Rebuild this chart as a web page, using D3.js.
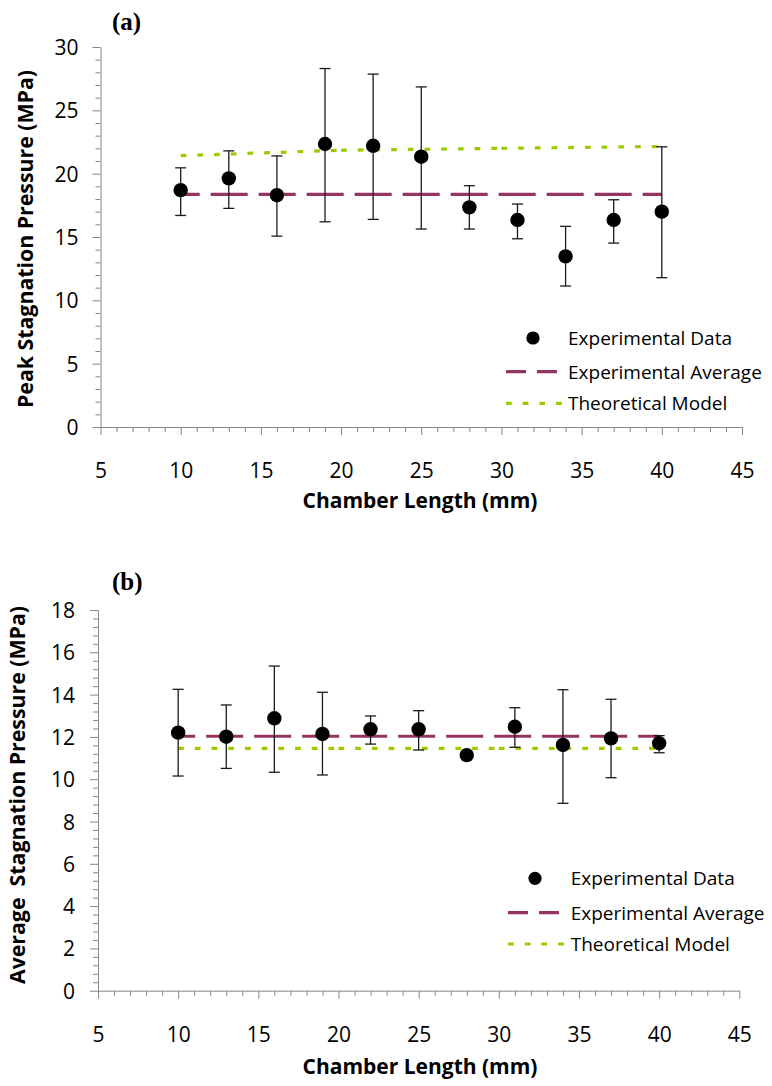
<!DOCTYPE html>
<html>
<head>
<meta charset="utf-8">
<script src="https://cdn.jsdelivr.net/npm/d3@7"></script>
<style>
  html, body { margin: 0; padding: 0; background: #fff; }
  svg { display: block; }
  text { font-family: "Open Sans", Lato, sans-serif; fill: #000; }
</style>
</head>
<body>
<svg id="chart" width="772" height="1086"></svg>
<script>
// Chamber lengths tested (mm)
const chamberLength = [10, 13, 16, 19, 22, 25, 28, 31, 34, 37, 40];

// Panel (a): peak stagnation pressure (MPa)
const peakMean  = [18.70, 19.63, 18.30, 22.34, 22.20, 21.34, 17.34, 16.34, 13.47, 16.34, 17.00];
const peakUpper = [20.46, 21.80, 21.40, 28.30, 27.86, 26.85, 19.05, 17.60, 15.84, 17.94, 22.12];
const peakLower = [16.70, 17.26, 15.07, 16.20, 16.39, 15.63, 15.63, 14.86, 11.13, 14.52, 11.79];
const peakAverage = 18.37;

// Panel (b): average stagnation pressure (MPa)
const avgMean  = [12.20, 12.01, 12.88, 12.14, 12.36, 12.36, 11.14, 12.48, 11.62, 11.93, 11.70];
const avgUpper = [14.25, 13.51, 15.35, 14.11, 12.99, 13.24, 11.24, 13.38, 14.23, 13.78, 12.06];
const avgLower = [10.15, 10.51, 10.33, 10.20, 11.66, 11.38, 11.04, 11.51,  8.86, 10.07, 11.25];
const avgAverage = 12.03;

// Theoretical model curves
const modelLength = [10, 20, 30, 40];
const peakModel = [21.42, 21.85, 22.00, 22.15];
const avgModel  = [11.46, 11.46, 11.46, 11.46];

// Tick labels
const lengthTicks = [5, 10, 15, 20, 25, 30, 35, 40, 45];
const peakTicks = [0, 5, 10, 15, 20, 25, 30];
const avgTicks = [0, 2, 4, 6, 8, 10, 12, 14, 16, 18];

const legendLabels = ["Experimental Data", "Experimental Average", "Theoretical Model"];

const AXIS = "#868686";
const AVG_COLOR = "#953462";
const MODEL_COLOR = "#99cc00";

const svg = d3.select("#chart");

function drawPanel(p) {
  const g = svg.append("g");
  const x = d3.scaleLinear().domain([5, 45]).range([p.left, p.right]);
  const y = d3.scaleLinear().domain([0, p.yMax]).range([p.bottom, p.top]);

  // minor ticks
  const xMinor = d3.range(5, 45.001, 1).filter(v => v % 5 !== 0);
  const yMinor = d3.range(0, p.yMax + 0.001, p.yMinorStep)
    .map(v => +v.toFixed(2)).filter(v => !p.yTicks.some(t => Math.abs(t - v) < 1e-6));

  g.append("g").attr("transform", `translate(0,${p.bottom})`)
    .call(d3.axisBottom(x).tickValues(xMinor).tickSize(5).tickFormat(""))
    .call(a => a.select(".domain").remove());
  g.append("g").attr("transform", `translate(${p.left},0)`)
    .call(d3.axisLeft(y).tickValues(yMinor).tickSize(5).tickFormat(""))
    .call(a => a.select(".domain").remove());

  const xAxis = g.append("g").attr("transform", `translate(0,${p.bottom})`)
    .call(d3.axisBottom(x).tickValues(lengthTicks).tickSize(8).tickSizeOuter(0));
  xAxis.selectAll("text").attr("y", p.xLabelOffset).attr("dy", "0.36em")
    .style("font-size", "21px").style("font-family", "'Open Sans'");

  const yAxis = g.append("g").attr("transform", `translate(${p.left},0)`)
    .call(d3.axisLeft(y).tickValues(p.yTicks).tickSize(8).tickSizeOuter(0).tickPadding(p.yPad));
  yAxis.selectAll("text").attr("dy", "0.36em")
    .style("font-size", "21px").style("font-family", "'Open Sans'");

  g.selectAll(".domain, .tick line").attr("stroke", AXIS).attr("stroke-width", 1);

  // axis titles
  g.append("text").attr("x", p.xTitleX).attr("y", p.xTitleY)
    .attr("text-anchor", "middle").style("font-weight", "bold").style("font-size", "21px")
    .text("Chamber Length (mm)");
  g.append("text")
    .attr("transform", `translate(${p.yTitleX},${p.yTitleY}) rotate(-90)`)
    .attr("text-anchor", "middle").style("font-weight", "bold").style("font-size", "21.3px")
    .style("white-space", "pre")
    .text(p.yTitle);

  // panel letter
  g.append("text").attr("x", 112).attr("y", p.letterY)
    .style("font-family", "'Liberation Serif', 'Times New Roman', serif")
    .style("font-weight", "bold").style("font-size", "25px")
    .text(p.letter);

  // theoretical model (pattern restarts on each segment)
  for (let i = 0; i < modelLength.length - 1; i++) {
    g.append("line")
      .attr("x1", x(modelLength[i])).attr("y1", y(p.model[i]))
      .attr("x2", x(modelLength[i + 1])).attr("y2", y(p.model[i + 1]))
      .attr("stroke", MODEL_COLOR).attr("stroke-width", 3.2)
      .attr("stroke-dasharray", "5.7 11");
  }

  // experimental average
  g.append("line")
    .attr("x1", x(chamberLength[0])).attr("x2", x(chamberLength[chamberLength.length - 1]))
    .attr("y1", y(p.average)).attr("y2", y(p.average))
    .attr("stroke", AVG_COLOR).attr("stroke-width", 3.2)
    .attr("stroke-dasharray", "37 11").attr("stroke-dashoffset", p.dashOffset);

  // error bars
  const eb = g.append("g").attr("stroke", "#1a1a1a").attr("stroke-width", 1.3);
  chamberLength.forEach((c, i) => {
    const cx = x(c);
    eb.append("line").attr("x1", cx).attr("x2", cx)
      .attr("y1", y(p.upper[i])).attr("y2", y(p.lower[i]));
    [p.upper[i], p.lower[i]].forEach(v => {
      eb.append("line").attr("x1", cx - 5.5).attr("x2", cx + 5.5)
        .attr("y1", y(v)).attr("y2", y(v));
    });
  });

  // data points
  g.append("g").selectAll("circle").data(chamberLength).join("circle")
    .attr("cx", d => x(d)).attr("cy", (d, i) => y(p.mean[i]))
    .attr("r", 7.2).attr("fill", "#000");

  // legend
  const L = p.legend;
  const lg = g.append("g").style("font-size", "19px");
  lg.append("circle").attr("cx", L.x + 27).attr("cy", L.y[0]).attr("r", 6.6).attr("fill", "#000");
  lg.append("line").attr("x1", L.x).attr("x2", L.x + 51).attr("y1", L.y[1]).attr("y2", L.y[1])
    .attr("stroke", AVG_COLOR).attr("stroke-width", 3.2).attr("stroke-dasharray", "20 11");
  lg.append("line").attr("x1", L.x).attr("x2", L.x + 56).attr("y1", L.y[2]).attr("y2", L.y[2])
    .attr("stroke", MODEL_COLOR).attr("stroke-width", 3.2).attr("stroke-dasharray", "5.7 11");
  legendLabels.forEach((t, i) => {
    lg.append("text").attr("x", L.textX).attr("y", L.y[i]).attr("dy", "0.36em").text(t);
  });
}

drawPanel({
  letter: "(a)", letterY: 30,
  left: 100.5, right: 742, top: 47, bottom: 427, yMax: 30,
  yTicks: peakTicks, yMinorStep: 1, yPad: 14,
  xLabelOffset: 43,
  xTitleX: 420, xTitleY: 508,
  yTitle: "Peak Stagnation Pressure (MPa)", yTitleX: 33, yTitleY: 239,
  mean: peakMean, upper: peakUpper, lower: peakLower,
  average: peakAverage, model: peakModel, dashOffset: 18,
  legend: { x: 506, textX: 568, y: [338, 371.7, 403.3] }
});

drawPanel({
  letter: "(b)", letterY: 590,
  left: 98, right: 739.3, top: 610, bottom: 990.7, yMax: 18,
  yTicks: avgTicks, yMinorStep: 0.4, yPad: 15,
  xLabelOffset: 44,
  xTitleX: 420, xTitleY: 1074,
  yTitle: "Average  Stagnation Pressure (MPa)", yTitleX: 25, yTitleY: 795,
  mean: avgMean, upper: avgUpper, lower: avgLower,
  average: avgAverage, model: avgModel, dashOffset: 20,
  legend: { x: 508, textX: 570.7, y: [878.3, 912.7, 944] }
});
</script>
</body>
</html>
